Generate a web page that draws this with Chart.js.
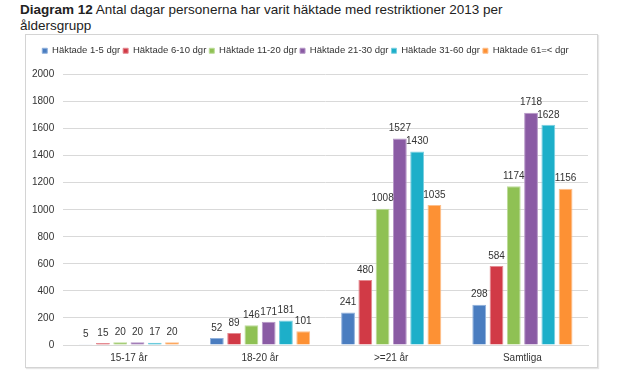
<!DOCTYPE html>
<html><head><meta charset="utf-8">
<script src="https://cdn.jsdelivr.net/npm/chart.js@4"></script>
<style>
html,body{margin:0;padding:0;background:#fff;width:635px;height:378px;overflow:hidden;}
#title{position:absolute;left:20px;top:2px;font-family:"Liberation Sans",Arial,sans-serif;font-size:13.5px;line-height:16px;color:#222;white-space:nowrap;}
#box{position:absolute;left:25px;top:34px;width:571px;height:332px;border:1px solid #d4d4d4;box-shadow:1px 1px 1px #e6e6e6;}
#c{position:absolute;left:0;top:0;}
</style></head><body>
<div id="title"><b>Diagram 12</b> Antal dagar personerna har varit häktade med restriktioner 2013 per<br>åldersgrupp</div>
<div id="box"><canvas id="c" width="571" height="332"></canvas></div>
<script>
const categories = ["15-17 år", "18-20 år", ">=21 år", "Samtliga"];
const seriesNames = ["Häktade 1-5 dgr", "Häktade 6-10 dgr", "Häktade 11-20 dgr", "Häktade 21-30 dgr", "Häktade 31-60 dgr", "Häktade 61=< dgr"];
const d1_5 = [5, 52, 241, 298];
const d6_10 = [15, 89, 480, 584];
const d11_20 = [20, 146, 1008, 1174];
const d21_30 = [20, 171, 1527, 1718];
const d31_60 = [17, 181, 1430, 1628];
const d61 = [20, 101, 1035, 1156];
const yTicks = [0, 200, 400, 600, 800, 1000, 1200, 1400, 1600, 1800, 2000];

const FONT = '"Liberation Sans", Arial, sans-serif';
const colors = ["#4a7dc0", "#d13a46", "#8fc154", "#8a5ba4", "#1dafc9", "#fd9134"];
const borders = ["#8fb0dc", "#e48a91", "#bcdc98", "#b597c6", "#7bcfe0", "#fdbf8c"];
const values = [d1_5, d6_10, d11_20, d21_30, d31_60, d61];

const labelPlugin = {
  id: 'valueLabels',
  afterDatasetsDraw(chart) {
    const ctx = chart.ctx;
    ctx.save();
    ctx.font = '10px ' + FONT;
    ctx.fillStyle = '#333';
    ctx.textAlign = 'center';
    ctx.textBaseline = 'bottom';
    chart.data.datasets.forEach((ds, i) => {
      chart.getDatasetMeta(i).data.forEach((bar, j) => {
        ctx.fillText(String(ds.data[j]), bar.x, bar.y - 5);
      });
    });
    ctx.restore();
  }
};

const legendMargin = {
  id: 'legendMargin',
  beforeInit(chart) {
    const fit = chart.legend.fit;
    chart.legend.fit = function () {
      fit.bind(chart.legend)();
      this.height += 9;
    };
  }
};

new Chart(document.getElementById('c'), {
  type: 'bar',
  data: {
    labels: categories,
    datasets: seriesNames.map((n, i) => ({
      label: n,
      data: values[i],
      backgroundColor: colors[i],
      borderColor: borders[i],
      borderWidth: 1,
      barPercentage: 0.8,
      categoryPercentage: 0.79
    }))
  },
  options: {
    responsive: false,
    animation: false,
    layout: { padding: { left: -3, right: 9, top: 8, bottom: -4 } },
    plugins: {
      legend: {
        position: 'top',
        labels: {
          boxWidth: 5, boxHeight: 5, padding: 3,
          color: '#333',
          font: { family: FONT, size: 9.5 }
        }
      },
      title: { display: false },
      tooltip: { enabled: false }
    },
    scales: {
      x: {
        grid: { display: false, drawTicks: false },
        border: { display: true, color: '#d9d9d9' },
        ticks: { color: '#333', padding: 7, font: { family: FONT, size: 10 } }
      },
      y: {
        min: 0, max: 2000,
        afterBuildTicks(axis) { axis.ticks = yTicks.map(v => ({ value: v })); },
        grid: { color: '#d9d9d9', drawTicks: false },
        border: { display: false },
        ticks: { color: '#333', padding: 9, font: { family: FONT, size: 10 }, callback: v => String(v) }
      }
    }
  },
  plugins: [labelPlugin, legendMargin]
});
</script>
</body></html>
